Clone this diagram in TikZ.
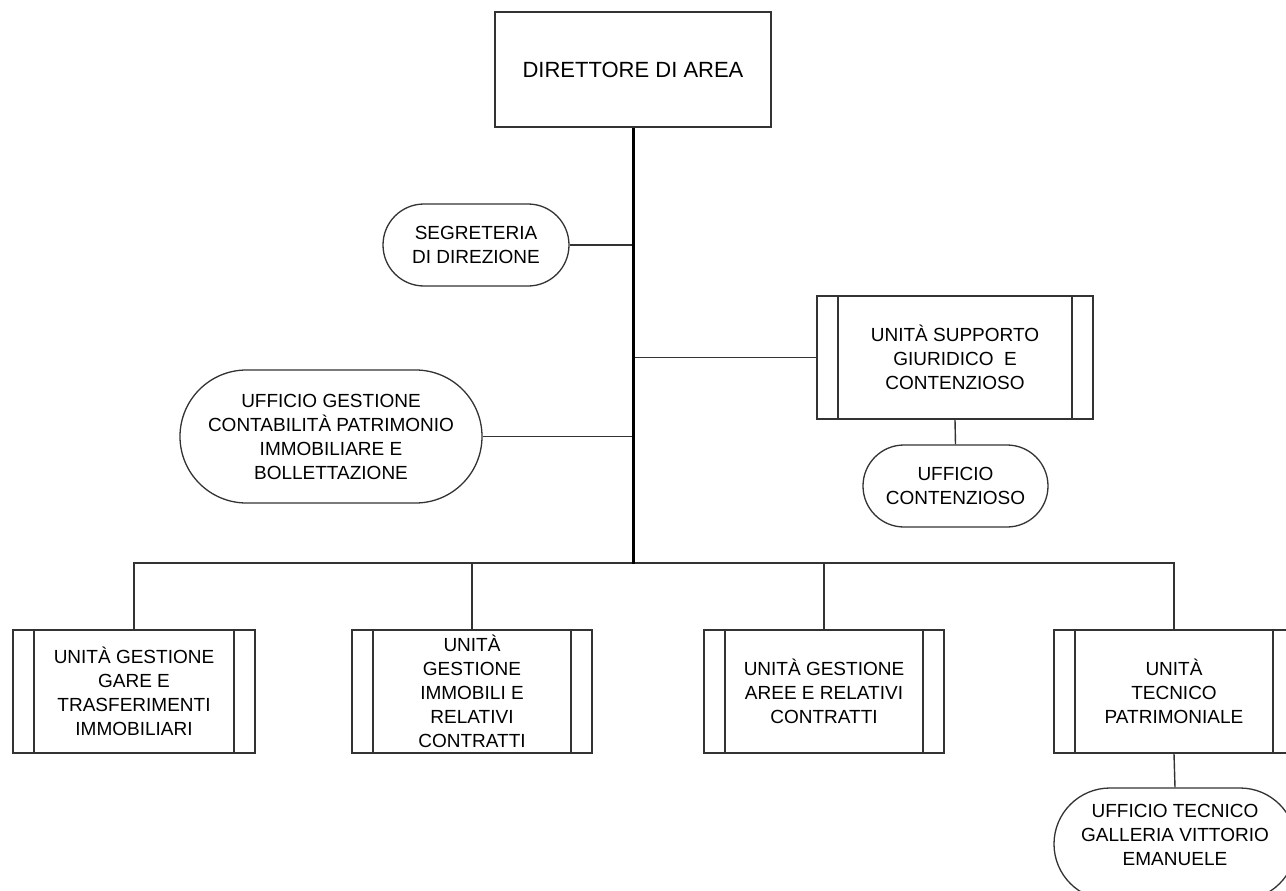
\documentclass[tikz,border=0pt]{standalone}
\usepackage{fontspec}
\setmainfont{Liberation Sans}
\usetikzlibrary{shapes.misc}
\definecolor{linegray}{HTML}{333333}
\begin{document}
\begin{tikzpicture}[x=1pt,y=-1pt,
  lbl/.style={align=center,font=\fontsize{19}{24}\selectfont,text=black,inner sep=0pt},
  dirbox/.style={draw=linegray,line width=1.5pt,rectangle,minimum width=276pt,minimum height=115pt,inner sep=0pt,align=center,font=\fontsize{22}{26}\selectfont},
  stadium/.style={lbl,draw=linegray,line width=1.3pt,rounded rectangle,inner sep=0pt},
  unitbox/.style={lbl,draw=linegray,line width=1.5pt,rectangle,inner sep=0pt,minimum height=123pt,
    path picture={
      \draw[linegray,line width=1.5pt] ([xshift=21pt]path picture bounding box.north west) -- ([xshift=21pt]path picture bounding box.south west);
      \draw[linegray,line width=1.5pt] ([xshift=-21pt]path picture bounding box.north east) -- ([xshift=-21pt]path picture bounding box.south east);
    }},
  conn/.style={draw=linegray,line width=1.4pt},
  trunk/.style={draw=black,line width=3pt}
]
\useasboundingbox (0,0) rectangle (1286,891);
\clip (0,0) rectangle (1286,891);
\fill[white] (0,0) rectangle (1286,891);

\node[dirbox] (dir) at (633,69.5) {DIRETTORE DI AREA};
\node[stadium,minimum width=186pt,minimum height=82pt] (seg) at (476,245) {SEGRETERIA\\DI DIREZIONE};
\node[unitbox,minimum width=276pt] (supp) at (955,357.5) {UNITÀ SUPPORTO\\GIURIDICO\ \ E\\CONTENZIOSO};
\node[stadium,minimum width=302pt,minimum height=133pt] (contab) at (331,436.5) {UFFICIO GESTIONE\\CONTABILITÀ PATRIMONIO\\IMMOBILIARE E\\BOLLETTAZIONE};
\node[stadium,minimum width=185pt,minimum height=82pt] (cont) at (955.5,486) {UFFICIO\\CONTENZIOSO};

\node[unitbox,minimum width=242pt] (b1) at (134,691.5) {UNITÀ GESTIONE\\GARE E\\TRASFERIMENTI\\IMMOBILIARI};
\node[unitbox,minimum width=240pt] (b2) at (472,691.5) {UNITÀ\\GESTIONE\\IMMOBILI E\\RELATIVI\\CONTRATTI};
\node[unitbox,minimum width=240pt] (b3) at (824,691.5) {UNITÀ GESTIONE\\AREE E RELATIVI\\CONTRATTI};
\node[unitbox,minimum width=240pt] (b4) at (1174,691.5) {UNITÀ\\TECNICO\\PATRIMONIALE};
\node[stadium,minimum width=242pt,minimum height=112pt] (gal) at (1175,844) {};
\node[lbl] (galtxt) at ([yshift=9pt]gal.center) {UFFICIO TECNICO\\GALLERIA VITTORIO\\EMANUELE};

\coordinate (j0) at (633,563);

\draw[conn] (seg.east) -- (seg.east -| dir.south);
\draw[conn] (supp.west) -- (supp.west -| dir.south);
\draw[conn] (contab.east) -- (contab.east -| dir.south);
\draw[conn] (supp.south) -- (cont.north);
\draw[conn] (b1.north) -- (b1.north |- j0) -- (b4.north |- j0) -- (b4.north);
\draw[conn] (b2.north) -- (b2.north |- j0);
\draw[conn] (b3.north) -- (b3.north |- j0);
\draw[conn] (b4.south) -- (gal.north);
\draw[trunk] (dir.south) -- ([yshift=-0.7pt]j0);
\end{tikzpicture}
\end{document}
